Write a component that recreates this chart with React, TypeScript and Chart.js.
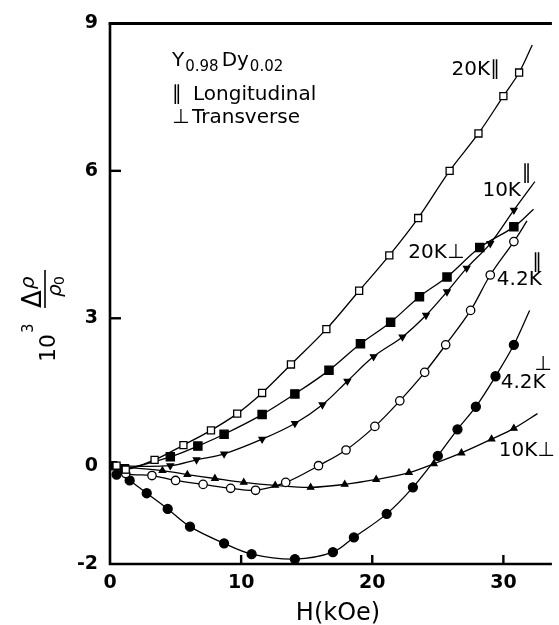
import React, { useEffect, useRef } from 'react';
import { Chart, registerables } from 'chart.js';

Chart.register(...registerables);

// Axis ticks
const xTicks = [0, 10, 20, 30];
const yTicks = [-2, 0, 3, 6, 9];
const xMin = 0;
const xMax = 33.7;
const yMin = -2;
const yMax = 9;

// 20 K longitudinal (open squares)
const h20L = [0.5, 1.2, 3.4, 5.6, 7.7, 9.7, 11.6, 13.8, 16.5, 19.0, 21.3, 23.5, 25.9, 28.1, 30.0, 31.2];
const r20L = [0.0, -0.08, 0.12, 0.42, 0.72, 1.06, 1.48, 2.06, 2.78, 3.56, 4.28, 5.04, 6.0, 6.76, 7.52, 8.0];
const end20L = [32.2, 8.56];

// 20 K transverse (filled squares)
const h20T = [0.2, 1.1, 4.6, 6.7, 8.7, 11.6, 14.1, 16.7, 19.1, 21.4, 23.6, 25.7, 28.2, 30.8];
const r20T = [0.0, -0.06, 0.18, 0.4, 0.64, 1.04, 1.46, 1.94, 2.48, 2.92, 3.44, 3.84, 4.44, 4.86];
const end20T = [32.3, 5.22];

// 10 K longitudinal (filled down-triangles)
const h10L = [4.6, 6.6, 8.7, 11.6, 14.1, 16.2, 18.1, 20.1, 22.3, 24.1, 25.7, 27.2, 29.0, 30.8];
const r10L = [0.0, 0.12, 0.24, 0.54, 0.86, 1.24, 1.72, 2.22, 2.62, 3.06, 3.54, 4.02, 4.52, 5.2];
const end10L = [32.4, 5.78];

// 4.2 K longitudinal (open circles)
const h42L = [1.2, 3.2, 5.0, 7.1, 9.2, 11.1, 13.4, 15.9, 18.0, 20.2, 22.1, 24.0, 25.6, 27.5, 29.0, 30.8];
const r42L = [-0.16, -0.2, -0.3, -0.38, -0.46, -0.5, -0.34, 0.0, 0.32, 0.8, 1.32, 1.9, 2.46, 3.16, 3.88, 4.56];
const end42L = [31.8, 4.98];

// 10 K transverse (filled up-triangles)
const h10T = [4.0, 5.9, 8.0, 10.2, 12.6, 15.3, 17.9, 20.3, 22.8, 24.7, 26.8, 29.1, 30.8];
const r10T = [-0.1, -0.18, -0.26, -0.34, -0.4, -0.44, -0.38, -0.28, -0.14, 0.04, 0.26, 0.54, 0.76];
const end10T = [32.6, 1.06];

// 4.2 K transverse (filled circles)
const h42T = [0.5, 1.5, 2.8, 4.4, 6.1, 8.7, 10.8, 14.1, 17.0, 18.6, 21.1, 23.1, 25.0, 26.5, 27.9, 29.4, 30.8];
const r42T = [-0.18, -0.3, -0.56, -0.88, -1.24, -1.58, -1.8, -1.9, -1.76, -1.46, -0.98, -0.44, 0.2, 0.74, 1.2, 1.82, 2.46];
const end42T = [32.0, 3.16];

// Curve labels (data coordinates of left/baseline)
const curveLabels = [
  { text: '20K\u2225', x: 26.05, y: 7.94 },
  { text: '10K', x: 28.4, y: 5.48 },
  { text: '\u2225', x: 31.4, y: 5.84 },
  { text: '20K\u22A5', x: 22.75, y: 4.22 },
  { text: '\u2225', x: 32.2, y: 4.02 },
  { text: '4.2K', x: 29.5, y: 3.68 },
  { text: '\u22A5', x: 32.35, y: 1.94 },
  { text: '4.2K', x: 29.8, y: 1.58 },
  { text: '10K\u22A5', x: 29.65, y: 0.2 },
];

const FONT = '"DejaVu Sans", sans-serif';

const pts = (xs: number[], ys: number[]) => xs.map((x, i) => ({ x, y: ys[i] }));
const curve = (xs: number[], ys: number[], end: number[]) => [
  { x: 0, y: 0 },
  ...pts(xs, ys).filter((p) => p.x > 0.6),
  { x: end[0], y: end[1] },
];

const lineDs = (xs: number[], ys: number[], end: number[]) => ({
  data: curve(xs, ys, end),
  showLine: true,
  borderColor: '#000',
  borderWidth: 1.3,
  pointRadius: 0,
  tension: 0.35,
  order: 2,
});

const markDs = (xs: number[], ys: number[], style: string, radius: number, filled: boolean, rotation = 0) => ({
  data: pts(xs, ys),
  showLine: false,
  pointStyle: style,
  pointRadius: radius,
  pointRotation: rotation,
  pointBackgroundColor: filled ? '#000' : '#fff',
  pointBorderColor: '#000',
  pointBorderWidth: 1.3,
  order: 1,
});

const decor = {
  id: 'decor',
  afterDraw(chart: any) {
    const { ctx, chartArea: a, scales } = chart;
    const sx = scales.x;
    const sy = scales.y;
    ctx.save();
    ctx.strokeStyle = '#000';
    ctx.lineCap = 'butt';
    // axes
    ctx.lineWidth = 2.6;
    ctx.beginPath();
    ctx.moveTo(a.left, sy.getPixelForValue(yMax) - 1);
    ctx.lineTo(a.left, a.bottom);
    ctx.lineTo(a.right, a.bottom);
    ctx.stroke();
    ctx.lineWidth = 3;
    ctx.beginPath();
    ctx.moveTo(a.left - 1.3, sy.getPixelForValue(yMax));
    ctx.lineTo(a.right, sy.getPixelForValue(yMax));
    ctx.stroke();
    // inward ticks
    ctx.lineWidth = 2.4;
    for (const v of [3, 6]) {
      const py = sy.getPixelForValue(v);
      ctx.beginPath();
      ctx.moveTo(a.left, py);
      ctx.lineTo(a.left + 11, py);
      ctx.stroke();
    }
    for (const v of [10, 20, 30]) {
      const px = sx.getPixelForValue(v);
      ctx.beginPath();
      ctx.moveTo(px, a.bottom);
      ctx.lineTo(px, a.bottom - 9);
      ctx.stroke();
    }
    ctx.fillStyle = '#000';
    ctx.textBaseline = 'alphabetic';
    ctx.textAlign = 'left';
    // curve labels
    ctx.font = `20px ${FONT}`;
    for (const l of curveLabels) {
      ctx.fillText(l.text, sx.getPixelForValue(l.x), sy.getPixelForValue(l.y));
    }
    // legend block
    const lx = sx.getPixelForValue(4.73);
    const b1 = sy.getPixelForValue(8.14);
    let cx = lx;
    ctx.font = `20px ${FONT}`;
    ctx.fillText('Y', cx, b1);
    cx += ctx.measureText('Y').width + 1;
    ctx.font = `15px ${FONT}`;
    ctx.fillText('0.98', cx, b1 + 5);
    cx += ctx.measureText('0.98').width + 3;
    ctx.font = `20px ${FONT}`;
    ctx.fillText('Dy', cx, b1);
    cx += ctx.measureText('Dy').width + 1;
    ctx.font = `15px ${FONT}`;
    ctx.fillText('0.02', cx, b1 + 5);
    ctx.font = `20px ${FONT}`;
    const b2 = sy.getPixelForValue(7.44);
    const b3 = sy.getPixelForValue(6.98);
    ctx.fillText('\u2225', lx, b2);
    ctx.fillText('Longitudinal', lx + 21, b2);
    ctx.fillText('\u22A5', lx, b3);
    ctx.fillText('Transverse', lx + 20, b3);
    // x-axis title
    ctx.font = `24px ${FONT}`;
    ctx.textAlign = 'center';
    ctx.fillText('H(kOe)', 338, 620);
    // y-axis title (rotated)
    ctx.translate(45, 316);
    ctx.rotate(-Math.PI / 2);
    ctx.textAlign = 'left';
    ctx.font = `22px ${FONT}`;
    ctx.fillText('10', -46, 10);
    ctx.font = `15px ${FONT}`;
    ctx.fillText('3', -17, -12);
    ctx.lineWidth = 1.6;
    ctx.beginPath();
    ctx.moveTo(8, 0);
    ctx.lineTo(46, 0);
    ctx.stroke();
    ctx.font = `26px ${FONT}`;
    ctx.fillText('\u0394', 8, -4);
    const dw = ctx.measureText('\u0394').width;
    ctx.font = `italic 20px ${FONT}`;
    ctx.fillText('\u03C1', 8 + dw + 1, -11);
    ctx.fillText('\u03C1', 19, 16);
    ctx.font = `14px ${FONT}`;
    ctx.fillText('0', 31, 19);
    ctx.restore();
  },
};

export default function App() {
  const ref = useRef<HTMLCanvasElement | null>(null);
  useEffect(() => {
    document.body.style.margin = '0';
    const canvas = ref.current;
    if (!canvas) return;
    const tickFont = { family: FONT, size: 19, weight: 'bold' as const };
    const chart = new Chart(canvas, {
      type: 'scatter',
      data: {
        datasets: [
          lineDs(h20L, r20L, end20L),
          lineDs(h20T, r20T, end20T),
          lineDs(h10L, r10L, end10L),
          lineDs(h42L, r42L, end42L),
          lineDs(h10T, r10T, end10T),
          lineDs(h42T, r42T, end42T),
          markDs(h20L, r20L, 'rect', 5, false),
          markDs(h20T, r20T, 'rect', 5.8, true),
          markDs(h10L, r10L, 'triangle', 3.6, true, 180),
          markDs(h42L, r42L, 'circle', 4.2, false),
          markDs(h10T, r10T, 'triangle', 3.6, true),
          markDs(h42T, r42T, 'circle', 4.5, true),
        ] as any,
      },
      options: {
        animation: false,
        responsive: false,
        devicePixelRatio: 1,
        layout: { padding: { top: 14, right: 0, left: 0, bottom: 0 } },
        plugins: { legend: { display: false }, tooltip: { enabled: false } },
        scales: {
          x: {
            type: 'linear',
            min: xMin,
            max: xMax,
            grid: { display: false, drawTicks: false },
            border: { display: false },
            afterBuildTicks: (s: any) => {
              s.ticks = xTicks.map((v) => ({ value: v }));
            },
            afterFit: (s: any) => {
              s.height = 61;
            },
            ticks: { font: tickFont, color: '#000', padding: 8, maxRotation: 0 },
          },
          y: {
            type: 'linear',
            min: yMin,
            max: yMax,
            grid: { display: false, drawTicks: false },
            border: { display: false },
            afterBuildTicks: (s: any) => {
              s.ticks = yTicks.map((v) => ({ value: v }));
            },
            afterFit: (s: any) => {
              s.width = 110;
            },
            ticks: { font: tickFont, color: '#000', padding: 12 },
          },
        },
      },
      plugins: [decor],
    });
    return () => chart.destroy();
  }, []);
  return (
    <div style={{ position: 'absolute', left: 0, top: 0, width: 559, height: 625 }}>
      <canvas ref={ref} width={559} height={625} style={{ width: 559, height: 625, display: 'block' }} />
    </div>
  );
}
